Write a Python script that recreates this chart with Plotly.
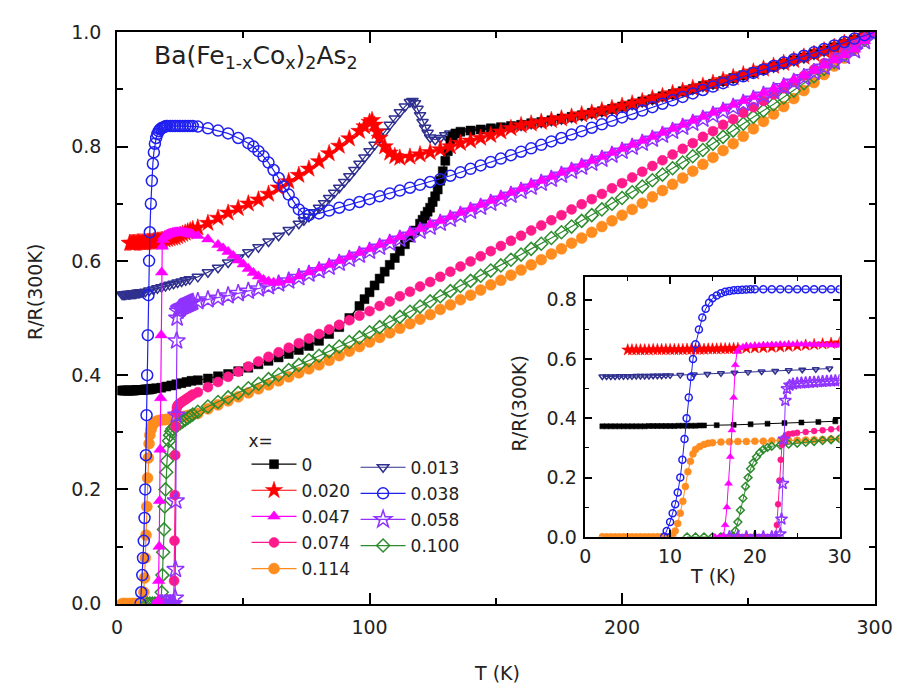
import plotly.graph_objects as go

FONT = "DejaVu Sans"
INK = "#222222"

# Shared temperature grid above 30 K
T_HI = [32, 36, 40, 44, 48, 52, 56, 60, 64, 68, 72, 76, 80, 84, 88, 92, 96, 100,
        104, 108, 112, 116, 120, 124, 128, 132, 136, 140, 144, 148, 152, 156, 160,
        164, 168, 172, 176, 180, 184, 188, 192, 196, 200, 204, 208, 212, 216, 220,
        224, 228, 232, 236, 240, 244, 248, 252, 256, 260, 264, 268, 272, 276, 280,
        284, 288, 292, 296, 300]

# x = 0
T_X0_LO = [2, 2.5, 3, 3.5, 4, 4.5, 5, 5.5, 6, 6.5, 7, 7.5, 8, 8.5, 9, 9.5, 10, 10.5,
           11, 11.5, 12, 12.5, 13, 13.5, 14, 15.5, 17.5, 19.5, 21.5, 23.5, 25.5, 27.5, 29.5]
R_X0_LO = [0.373, 0.373, 0.373, 0.373, 0.373, 0.373, 0.373, 0.373, 0.373, 0.373, 0.373,
           0.374, 0.374, 0.374, 0.374, 0.374, 0.374, 0.374, 0.375, 0.375, 0.375, 0.375,
           0.375, 0.376, 0.376, 0.377, 0.378, 0.380, 0.382, 0.384, 0.386, 0.388, 0.390]
R_X0_HI = [0.391, 0.394, 0.398, 0.402, 0.407, 0.413, 0.419, 0.425, 0.431, 0.437, 0.444,
           0.451, 0.460, 0.472, 0.484, 0.500, 0.521, 0.545, 0.569, 0.593, 0.617, 0.641,
           0.665, 0.693, 0.740, 0.810, 0.826, 0.828, 0.830, 0.832, 0.834, 0.836, 0.838,
           0.841, 0.843, 0.846, 0.849, 0.852, 0.855, 0.859, 0.862, 0.866, 0.870, 0.874,
           0.879, 0.883, 0.888, 0.892, 0.897, 0.901, 0.906, 0.910, 0.915, 0.920, 0.925,
           0.930, 0.935, 0.940, 0.945, 0.951, 0.956, 0.962, 0.968, 0.974, 0.980, 0.987,
           0.993, 1.000]
T_X0_EX = [98, 102, 106, 110, 114, 118, 121, 122, 123, 125, 126, 127, 129, 130, 131, 133, 134]
R_X0_EX = [0.533, 0.557, 0.581, 0.605, 0.629, 0.653, 0.672, 0.679, 0.686, 0.703, 0.713,
           0.725, 0.757, 0.775, 0.792, 0.818, 0.823]

# x = 0.013
T_X013_LO = [2, 2.5, 3, 3.5, 4, 4.5, 5, 5.5, 6, 6.5, 7, 7.5, 8, 8.5, 9, 9.5, 10,
             11.2, 12.8, 14.4, 16, 17.6, 19.2, 20.8, 22.4, 24, 25.6, 27.2, 28.8]
R_X013_LO = [0.541, 0.541, 0.541, 0.541, 0.542, 0.542, 0.542, 0.542, 0.543, 0.543, 0.543,
             0.543, 0.544, 0.544, 0.544, 0.545, 0.545, 0.546, 0.548, 0.550, 0.552, 0.554,
             0.556, 0.558, 0.560, 0.562, 0.564, 0.566, 0.568]
R_X013_HI = [0.572, 0.580, 0.588, 0.597, 0.606, 0.615, 0.624, 0.634, 0.644, 0.654, 0.665,
             0.677, 0.693, 0.710, 0.728, 0.748, 0.770, 0.792, 0.815, 0.838, 0.860, 0.878,
             0.855, 0.816, 0.815, 0.823, 0.825, 0.827, 0.829, 0.831, 0.833, 0.835, 0.837,
             0.840, 0.842, 0.845, 0.848, 0.851, 0.854, 0.858, 0.861, 0.865, 0.869, 0.873,
             0.878, 0.882, 0.887, 0.891, 0.896, 0.900, 0.905, 0.909, 0.914, 0.919, 0.924,
             0.929, 0.934, 0.939, 0.944, 0.950, 0.955, 0.961, 0.967, 0.973, 0.979, 0.986,
             0.992, 1.000]
T_X013_EX = [74, 78, 82, 86, 90, 94, 98, 102, 106, 110, 114, 117, 118, 119, 121, 122, 123, 126, 130]
R_X013_EX = [0.671, 0.685, 0.701, 0.719, 0.738, 0.759, 0.781, 0.803, 0.826, 0.849, 0.870,
             0.880, 0.876, 0.866, 0.843, 0.833, 0.824, 0.812, 0.820]

# x = 0.020
T_X020_LO = [5, 5.5, 6, 6.5, 7, 7.5, 8, 8.5, 9, 9.5, 10, 10.5, 11, 11.5, 12, 12.5, 13,
             13.5, 14, 14.5, 15, 15.5, 16, 16.5, 17, 17.5, 18, 19, 20, 21, 22, 23, 24,
             25, 26, 27, 28, 29, 30]
R_X020_LO = [0.631, 0.631, 0.631, 0.631, 0.631, 0.631, 0.632, 0.632, 0.632, 0.632, 0.632,
             0.632, 0.632, 0.632, 0.633, 0.633, 0.633, 0.633, 0.633, 0.634, 0.634, 0.634,
             0.635, 0.635, 0.635, 0.636, 0.636, 0.637, 0.638, 0.639, 0.640, 0.641, 0.643,
             0.645, 0.647, 0.649, 0.651, 0.653, 0.655]
R_X020_HI = [0.658, 0.666, 0.675, 0.684, 0.692, 0.700, 0.707, 0.717, 0.728, 0.739, 0.750,
             0.761, 0.774, 0.788, 0.801, 0.814, 0.827, 0.843, 0.815, 0.789, 0.780, 0.782,
             0.786, 0.790, 0.795, 0.800, 0.806, 0.810, 0.815, 0.820, 0.826, 0.832, 0.837,
             0.840, 0.843, 0.846, 0.849, 0.852, 0.856, 0.859, 0.863, 0.867, 0.871, 0.875,
             0.879, 0.884, 0.888, 0.893, 0.897, 0.902, 0.906, 0.911, 0.916, 0.921, 0.926,
             0.931, 0.936, 0.941, 0.946, 0.951, 0.957, 0.962, 0.968, 0.974, 0.981, 0.987,
             0.994, 1.000]
T_X020_EX = [98, 101, 102, 103, 106, 110]
R_X020_EX = [0.835, 0.846, 0.838, 0.826, 0.800, 0.783]

# x = 0.038
T_X038_LO = [9.3, 9.6, 10.0, 10.3, 10.6, 10.9, 11.2, 11.45, 11.7, 11.95, 12.2, 12.45,
             12.7, 13.0, 13.4, 13.8, 14.2, 14.6, 15.0, 15.5, 16, 16.5, 17, 17.5, 18,
             18.5, 19, 19.5, 20, 21, 22, 23, 24, 25, 26, 27, 28, 29, 30]
R_X038_LO = [0.0, 0.02, 0.05, 0.08, 0.11, 0.15, 0.20, 0.26, 0.33, 0.40, 0.47, 0.54,
             0.60, 0.65, 0.70, 0.74, 0.77, 0.79, 0.805, 0.815, 0.822, 0.827, 0.830,
             0.832, 0.833, 0.834, 0.835, 0.836, 0.836, 0.836, 0.836, 0.836, 0.836,
             0.836, 0.836, 0.836, 0.836, 0.836, 0.836]
R_X038_HI = [0.835, 0.832, 0.828, 0.823, 0.815, 0.806, 0.792, 0.772, 0.745, 0.716, 0.690,
             0.680, 0.683, 0.688, 0.693, 0.698, 0.703, 0.708, 0.713, 0.718, 0.723, 0.728,
             0.733, 0.738, 0.743, 0.749, 0.755, 0.761, 0.767, 0.773, 0.779, 0.785, 0.791,
             0.797, 0.803, 0.809, 0.815, 0.821, 0.827, 0.833, 0.839, 0.845, 0.851, 0.857,
             0.863, 0.869, 0.875, 0.881, 0.887, 0.893, 0.899, 0.905, 0.911, 0.917, 0.923,
             0.929, 0.935, 0.941, 0.947, 0.953, 0.959, 0.965, 0.971, 0.977, 0.983, 0.989,
             0.995, 1.000]
T_X038_EX = [54, 58, 62, 66, 70, 74]
R_X038_EX = [0.800, 0.783, 0.759, 0.730, 0.702, 0.683]

# x = 0.047
T_X047_LO = [15.3, 15.8, 16.3, 16.5, 16.7, 16.9, 17.1, 17.3, 17.5, 17.7, 17.9, 18.2, 18.6,
             19, 19.5, 20, 20.5, 21, 21.5, 22, 22.5, 23, 23.5, 24, 24.5, 25, 25.5, 26,
             26.5, 27, 27.5, 28, 28.5, 29, 29.5, 30]
R_X047_LO = [0.0, 0.0, 0.005, 0.04, 0.10, 0.18, 0.27, 0.36, 0.47, 0.58, 0.625, 0.637, 0.642,
             0.644, 0.645, 0.646, 0.647, 0.648, 0.648, 0.649, 0.649, 0.650, 0.650, 0.650,
             0.650, 0.650, 0.650, 0.650, 0.649, 0.649, 0.649, 0.648, 0.648, 0.647, 0.647,
             0.646]
R_X047_HI = [0.644, 0.638, 0.628, 0.616, 0.601, 0.586, 0.573, 0.564, 0.562, 0.566, 0.573,
             0.580, 0.587, 0.593, 0.600, 0.607, 0.614, 0.621, 0.628, 0.635, 0.642, 0.649,
             0.656, 0.663, 0.670, 0.677, 0.684, 0.691, 0.698, 0.705, 0.712, 0.719, 0.726,
             0.733, 0.740, 0.747, 0.754, 0.761, 0.768, 0.775, 0.782, 0.789, 0.796, 0.803,
             0.810, 0.817, 0.824, 0.831, 0.838, 0.845, 0.852, 0.859, 0.866, 0.873, 0.880,
             0.887, 0.894, 0.901, 0.909, 0.917, 0.925, 0.933, 0.942, 0.951, 0.960, 0.970,
             0.985, 1.000]
T_X047_EX = [42, 46, 50, 54, 58, 62]
R_X047_EX = [0.622, 0.609, 0.594, 0.579, 0.567, 0.562]

# x = 0.058
T_X058_LO = [17, 18, 19, 20, 21, 22, 22.5, 23.0, 23.15, 23.3, 23.45, 23.6, 23.8, 24.1, 24.5,
             25, 25.5, 26, 26.5, 27, 27.5, 28, 28.5, 29, 29.5, 30]
R_X058_LO = [0.0, 0.0, 0.0, 0.0, 0.0, 0.0, 0.0, 0.01, 0.06, 0.18, 0.33, 0.46, 0.50, 0.512,
             0.516, 0.518, 0.519, 0.520, 0.521, 0.522, 0.523, 0.524, 0.525, 0.526, 0.527,
             0.528]
R_X058_HI = [0.529, 0.532, 0.535, 0.539, 0.543, 0.547, 0.551, 0.555, 0.560, 0.565, 0.571,
             0.577, 0.583, 0.589, 0.596, 0.603, 0.610, 0.617, 0.624, 0.631, 0.638, 0.645,
             0.652, 0.659, 0.666, 0.673, 0.680, 0.687, 0.694, 0.701, 0.708, 0.715, 0.722,
             0.729, 0.736, 0.743, 0.750, 0.757, 0.764, 0.771, 0.778, 0.785, 0.792, 0.799,
             0.806, 0.813, 0.820, 0.827, 0.834, 0.841, 0.848, 0.855, 0.862, 0.869, 0.876,
             0.883, 0.890, 0.897, 0.905, 0.913, 0.921, 0.930, 0.939, 0.948, 0.958, 0.968,
             0.984, 1.000]

# x = 0.074
T_X074_LO = [17, 17.5, 18, 18.5, 19, 19.5, 20, 20.5, 21, 21.5, 22, 22.4, 22.6, 22.75, 22.9,
             23.05, 23.2, 23.4, 23.7, 24, 24.5, 25, 26, 27, 28, 29, 30]
R_X074_LO = [0.0, 0.0, 0.0, 0.0, 0.0, 0.0, 0.0, 0.0, 0.0, 0.0, 0.0, 0.0, 0.04, 0.11, 0.19,
             0.26, 0.31, 0.334, 0.343, 0.347, 0.349, 0.351, 0.354, 0.357, 0.360, 0.363,
             0.366]
R_X074_HI = [0.370, 0.379, 0.388, 0.397, 0.406, 0.415, 0.424, 0.432, 0.440, 0.448, 0.456,
             0.464, 0.472, 0.480, 0.488, 0.496, 0.504, 0.512, 0.521, 0.529, 0.538, 0.546,
             0.555, 0.563, 0.572, 0.581, 0.590, 0.599, 0.608, 0.617, 0.626, 0.635, 0.644,
             0.653, 0.662, 0.671, 0.680, 0.690, 0.699, 0.708, 0.717, 0.727, 0.736, 0.746,
             0.756, 0.766, 0.776, 0.786, 0.796, 0.806, 0.817, 0.827, 0.838, 0.848, 0.859,
             0.869, 0.880, 0.891, 0.902, 0.913, 0.924, 0.935, 0.946, 0.957, 0.968, 0.979,
             0.990, 1.000]

# x = 0.100
T_X100_LO = [12, 13, 14, 15, 16, 17, 17.4, 17.7, 18.0, 18.3, 18.6, 18.9, 19.2, 19.5, 19.8,
             20.2, 20.6, 21, 21.5, 22, 23, 24, 25, 26, 27, 28, 29, 30]
R_X100_LO = [0.0, 0.0, 0.0, 0.0, 0.0, 0.0, 0.003, 0.02, 0.05, 0.09, 0.13, 0.17, 0.20, 0.23,
             0.25, 0.27, 0.285, 0.295, 0.302, 0.306, 0.310, 0.313, 0.316, 0.319, 0.322,
             0.325, 0.328, 0.331]
R_X100_HI = [0.336, 0.345, 0.353, 0.361, 0.369, 0.377, 0.385, 0.393, 0.401, 0.409, 0.418,
             0.426, 0.434, 0.442, 0.450, 0.458, 0.466, 0.475, 0.484, 0.493, 0.502, 0.511,
             0.520, 0.529, 0.538, 0.547, 0.556, 0.565, 0.574, 0.583, 0.592, 0.602, 0.611,
             0.621, 0.630, 0.640, 0.650, 0.660, 0.670, 0.680, 0.690, 0.700, 0.710, 0.720,
             0.730, 0.741, 0.751, 0.762, 0.772, 0.783, 0.794, 0.805, 0.817, 0.828, 0.840,
             0.852, 0.863, 0.874, 0.886, 0.898, 0.911, 0.923, 0.936, 0.948, 0.961, 0.974,
             0.987, 1.000]

# x = 0.114
T_X114_LO = [2, 2.5, 3, 3.5, 4, 4.5, 5, 5.5, 6, 6.5, 7, 7.5, 8, 8.5, 9, 9.5, 10, 10.3,
             10.6, 10.9, 11.2, 11.5, 11.8, 12.1, 12.4, 12.7, 13.0, 13.5, 14, 14.5, 15, 16,
             17, 18, 19, 20, 21, 22, 23, 24, 25, 26, 27, 28, 29, 30]
R_X114_LO = [0.0, 0.0, 0.0, 0.0, 0.0, 0.0, 0.0, 0.0, 0.0, 0.0, 0.0, 0.0, 0.0, 0.0, 0.0,
             0.0, 0.0, 0.005, 0.02, 0.045, 0.08, 0.12, 0.17, 0.22, 0.255, 0.28, 0.295,
             0.305, 0.312, 0.316, 0.318, 0.320, 0.321, 0.322, 0.322, 0.323, 0.323, 0.324,
             0.325, 0.325, 0.326, 0.327, 0.328, 0.329, 0.330, 0.331]
R_X114_HI = [0.333, 0.341, 0.348, 0.355, 0.362, 0.369, 0.376, 0.383, 0.390, 0.397, 0.404,
             0.411, 0.418, 0.426, 0.434, 0.442, 0.450, 0.458, 0.466, 0.474, 0.482, 0.490,
             0.498, 0.506, 0.515, 0.523, 0.532, 0.540, 0.549, 0.558, 0.566, 0.575, 0.584,
             0.593, 0.602, 0.612, 0.621, 0.631, 0.640, 0.650, 0.660, 0.670, 0.680, 0.690,
             0.701, 0.712, 0.723, 0.734, 0.745, 0.757, 0.769, 0.781, 0.793, 0.805, 0.818,
             0.831, 0.844, 0.857, 0.870, 0.884, 0.898, 0.912, 0.926, 0.941, 0.955, 0.970,
             0.985, 1.000]

# Listed bottom layer first.
# label, low-T part, grid part, extra points, colour, symbol, size, legend, rank
SERIES = [
    ("0.013", T_X013_LO, R_X013_LO, R_X013_HI, T_X013_EX, R_X013_EX, "#30308F", "triangle-down-open", 10, "legend2", 1),
    ("0", T_X0_LO, R_X0_LO, R_X0_HI, T_X0_EX, R_X0_EX, "#000000", "square", 9, "legend", 1),
    ("0.020", T_X020_LO, R_X020_LO, R_X020_HI, T_X020_EX, R_X020_EX, "#FF0000", "star", 13, "legend", 2),
    ("0.114", T_X114_LO, R_X114_LO, R_X114_HI, [], [], "#FF8C1F", "circle", 11, "legend", 5),
    ("0.100", T_X100_LO, R_X100_LO, R_X100_HI, [], [], "#2E8B2E", "diamond-open", 10, "legend2", 4),
    ("0.074", T_X074_LO, R_X074_LO, R_X074_HI, [], [], "#FF1A8C", "circle", 10, "legend", 4),
    ("0.058", T_X058_LO, R_X058_LO, R_X058_HI, [], [], "#8F33FF", "star-open", 13, "legend2", 3),
    ("0.047", T_X047_LO, R_X047_LO, R_X047_HI, T_X047_EX, R_X047_EX, "#FF00FF", "triangle-up", 11, "legend", 3),
    ("0.038", T_X038_LO, R_X038_LO, R_X038_HI, T_X038_EX, R_X038_EX, "#1F1FF0", "circle-open", 11, "legend2", 2),
]


def assemble(t_lo, r_lo, r_hi, t_ex, r_ex):
    assert len(t_lo) == len(r_lo) and len(r_hi) == len(T_HI) and len(t_ex) == len(r_ex)
    pts = sorted(zip(list(t_lo) + T_HI + list(t_ex), list(r_lo) + list(r_hi) + list(r_ex)))
    return [p[0] for p in pts], [p[1] for p in pts]


fig = go.Figure()

for label, t_lo, r_lo, r_hi, t_ex, r_ex, color, symbol, size, leg, rank in SERIES:
    t, r = assemble(t_lo, r_lo, r_hi, t_ex, r_ex)
    open_sym = symbol.endswith("open")
    mk = dict(symbol=symbol, size=size, color=color,
              line=dict(color=color, width=1.5 if open_sym else 0.5))
    fig.add_trace(go.Scatter(
        x=t, y=r, mode="lines+markers", name=label,
        line=dict(color=color, width=1.2), marker=mk,
        legend=leg, legendgroup=label, legendrank=rank,
        xaxis="x", yaxis="y"))
    # low-temperature window
    ti = [a for a in t if a <= 31]
    ri = [b for a, b in zip(t, r) if a <= 31]
    mk_in = dict(mk, size=max(size - 4, 5))
    fig.add_trace(go.Scatter(
        x=ti, y=ri, mode="lines+markers", showlegend=False,
        line=dict(color=color, width=1), marker=mk_in,
        xaxis="x2", yaxis="y2"))

W, H = 915, 697

axis_style = dict(showline=True, linecolor="black", linewidth=1.6, mirror="ticks",
                  ticks="inside", tickcolor="black", tickwidth=1.6, showgrid=False,
                  zeroline=False, tickfont=dict(family=FONT, size=19, color=INK))

fig.update_layout(
    width=W, height=H,
    margin=dict(l=0, r=0, t=0, b=0),
    paper_bgcolor="white", plot_bgcolor="white",
    xaxis=dict(axis_style, domain=[114 / W, 892 / W], range=[0, 300],
               tickvals=[0, 100, 200, 300], ticklen=11, ticklabelstandoff=6,
               minor=dict(ticks="inside", ticklen=6, tickwidth=1.6, tickcolor="black",
                          tick0=0, dtick=50),
               anchor="y"),
    yaxis=dict(axis_style, domain=[85 / H, 675 / H], range=[0, 1],
               tick0=0, dtick=0.2, tickformat=".1f", ticklen=11, ticklabelstandoff=10,
               minor=dict(ticks="inside", ticklen=6, tickwidth=1.6, tickcolor="black",
                          tick0=0, dtick=0.1),
               anchor="x"),
    xaxis2=dict(axis_style, domain=[595 / W, 856 / W], range=[0, 30],
                tick0=0, dtick=10, ticklen=7, ticklabelstandoff=2,
                minor=dict(ticks="inside", ticklen=4, tickwidth=1.4, tickcolor="black",
                           tick0=0, dtick=5),
                anchor="y2"),
    yaxis2=dict(axis_style, domain=[154 / H, 422 / H], range=[0, 0.876],
                tick0=0, dtick=0.2, tickformat=".1f", ticklen=7, ticklabelstandoff=3,
                minor=dict(ticks="inside", ticklen=4, tickwidth=1.4, tickcolor="black",
                           tick0=0, dtick=0.1),
                anchor="x2"),
    legend=dict(x=247 / W, y=1 - 427 / H, xanchor="left", yanchor="top",
                bgcolor="rgba(0,0,0,0)", borderwidth=0,
                font=dict(family=FONT, size=17, color=INK),
                title=dict(text="x=", font=dict(family=FONT, size=17, color=INK)),
                traceorder="grouped", tracegroupgap=1, itemsizing="trace", itemwidth=45),
    legend2=dict(x=359 / W, y=1 - 453 / H, xanchor="left", yanchor="top",
                 bgcolor="rgba(0,0,0,0)", borderwidth=0,
                 font=dict(family=FONT, size=17, color=INK),
                 traceorder="grouped", tracegroupgap=1, itemsizing="trace", itemwidth=45),
    showlegend=True,
)

fig.add_annotation(text="Ba(Fe<sub>1-x</sub>Co<sub>x</sub>)<sub>2</sub>As<sub>2</sub>",
                   xref="paper", yref="paper", x=150 / W, y=1 - 47 / H,
                   xanchor="left", yanchor="middle", showarrow=False,
                   font=dict(family=FONT, size=25, color=INK))
fig.add_annotation(text="R/R(300K)", textangle=-90, xref="paper", yref="paper",
                   x=30 / W, y=1 - 290 / H, xanchor="center", yanchor="middle",
                   showarrow=False, font=dict(family=FONT, size=19, color=INK))
fig.add_annotation(text="T (K)", xref="paper", yref="paper",
                   x=504 / W, y=1 - 684 / H, xanchor="center", yanchor="middle",
                   showarrow=False, font=dict(family=FONT, size=19, color=INK))
fig.add_annotation(text="R/R(300K)", textangle=-90, xref="paper", yref="paper",
                   x=527 / W, y=1 - 405 / H, xanchor="center", yanchor="middle",
                   showarrow=False, font=dict(family=FONT, size=19, color=INK))
fig.add_annotation(text="T (K)", xref="paper", yref="paper",
                   x=726 / W, y=1 - 583 / H, xanchor="center", yanchor="middle",
                   showarrow=False, font=dict(family=FONT, size=19, color=INK))

fig.write_html("out.html")
